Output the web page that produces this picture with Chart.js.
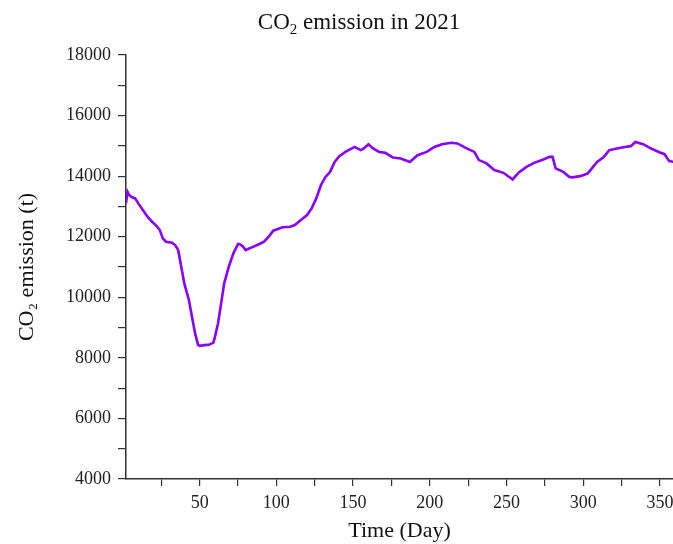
<!DOCTYPE html>
<html>
<head>
<meta charset="utf-8">
<title>CO2 emission in 2021</title>
<script src="https://cdn.jsdelivr.net/npm/chart.js@4.4.1/dist/chart.umd.min.js"></script>
<style>
  body { margin: 0; background: #fff; }
  canvas { display: block; }
</style>
</head>
<body>
<canvas id="co2" width="673" height="544"></canvas>
<script>
// values (day of year, tonnes)
var days = [2, 3, 4, 6, 8, 10, 13, 16, 19, 22, 24, 26, 28, 32, 34, 36, 38, 40, 43, 45,
            47, 49, 50, 53, 56, 59, 60, 62, 64, 66, 69, 72, 75, 76, 78, 80, 84, 89, 92, 95,
            98, 104, 109, 112, 116, 120, 123, 126, 129, 132, 135, 138, 141, 145, 151, 155, 157, 160, 163, 167,
            171, 176, 181, 187, 192, 198, 203, 208, 214, 218, 224, 229, 232, 237, 242, 248, 254, 258, 263, 268,
            274, 278, 280, 282, 287, 291, 293, 298, 303, 309, 313, 317, 322, 327, 331, 334, 339, 344, 350, 353,
            356, 359];
var emission = [13100, 13480, 13380, 13300, 13265, 13100, 12880, 12660, 12495, 12350, 12220, 11945, 11835, 11800, 11725, 11560, 11010, 10460, 9910, 9360,
                8815, 8430, 8395, 8420, 8430, 8505, 8700, 9145, 9800, 10460, 11010, 11450, 11760, 11760, 11690, 11560, 11650, 11760, 11835, 12000,
                12200, 12310, 12330, 12385, 12550, 12715, 12935, 13265, 13700, 13975, 14140, 14470, 14660, 14800, 14965, 14860, 14915, 15055, 14915, 14800,
                14770, 14615, 14585, 14470, 14690, 14800, 14965, 15055, 15100, 15080, 14915, 14800, 14530, 14420, 14200, 14110, 13890, 14120, 14305, 14440,
                14550, 14635, 14635, 14255, 14140, 13975, 13960, 14000, 14090, 14470, 14615, 14860, 14915, 14965, 14990, 15130, 15055, 14915, 14780, 14725,
                14495, 14470];
var xTicks = [25, 50, 75, 100, 125, 150, 175, 200, 225, 250, 275, 300, 325, 350];

var points = days.map(function(d, i) { return { x: d, y: emission[i] }; });

var serif = "'Liberation Serif', 'Times New Roman', serif";
var axisColor = '#333';

// title drawn by hand so the "2" can sit as a real subscript
var titlePlugin = {
  id: 'subTitle',
  afterDraw: function(chart) {
    var ctx = chart.ctx;
    var big = "23px " + serif, small = "15px " + serif;
    ctx.save();
    ctx.fillStyle = '#111';
    ctx.textBaseline = 'alphabetic';
    ctx.font = big;
    var w1 = ctx.measureText('CO').width;
    var w3 = ctx.measureText(' emission in 2021').width;
    ctx.font = small;
    var w2 = ctx.measureText('2').width;
    var x = 359 - (w1 + w2 + w3) / 2, y = 29;
    ctx.font = big;
    ctx.fillText('CO', x, y);
    ctx.font = small;
    ctx.fillText('2', x + w1, y + 5);
    ctx.font = big;
    ctx.fillText(' emission in 2021', x + w1 + w2, y);
    ctx.restore();
  }
};

var ctx = document.getElementById('co2').getContext('2d');
var myChart = new Chart(ctx, {
  type: 'line',
  data: {
    datasets: [{
      label: 'CO2 emission',
      data: points,
      borderColor: '#8a00ff',
      borderWidth: 2.6,
      pointRadius: 0,
      tension: 0,
      fill: false
    }]
  },
  options: {
    responsive: false,
    animation: false,
    layout: { padding: { top: 55, right: 0, left: 0, bottom: 0 } },
    plugins: {
      legend: { display: false },
      title: { display: false },
      tooltip: { enabled: false }
    },
    scales: {
      x: {
        type: 'linear',
        min: 2,
        max: 358.5,
        afterBuildTicks: function(axis) {
          axis.ticks = xTicks.map(function(v) { return { value: v }; });
        },
        afterFit: function(axis) {
          axis.height = 65;
          axis.paddingLeft = 0;
          axis.paddingRight = 0;
        },
        grid: { display: true, drawOnChartArea: false, drawTicks: true, tickLength: 7, color: axisColor, lineWidth: 1.2 },
        border: { display: true, color: axisColor, width: 1.5 },
        ticks: {
          autoSkip: false,
          maxRotation: 0,
          padding: 6,
          color: '#222',
          font: { family: serif, size: 18 },
          callback: function(v) { return v % 50 === 0 ? String(v) : ''; }
        },
        title: {
          display: true,
          text: 'Time (Day)',
          color: '#111',
          font: { family: serif, size: 22 },
          padding: { top: 0, bottom: 0 }
        }
      },
      y: {
        min: 4000,
        max: 18000,
        afterFit: function(axis) { axis.width = 126; },
        grid: { display: true, drawOnChartArea: false, drawTicks: true, tickLength: 8, color: axisColor, lineWidth: 1.2 },
        border: { display: true, color: axisColor, width: 1.5 },
        ticks: {
          stepSize: 1000,
          autoSkip: false,
          padding: 7,
          color: '#222',
          font: { family: serif, size: 18 },
          callback: function(v) { return v % 2000 === 0 ? String(v) : ''; }
        },
        title: {
          display: true,
          text: 'CO\u2082 emission (t)',
          color: '#111',
          font: { family: serif, size: 22 },
          padding: { top: 14, bottom: 0 }
        }
      }
    }
  },
  plugins: [titlePlugin]
});
</script>
</body>
</html>
